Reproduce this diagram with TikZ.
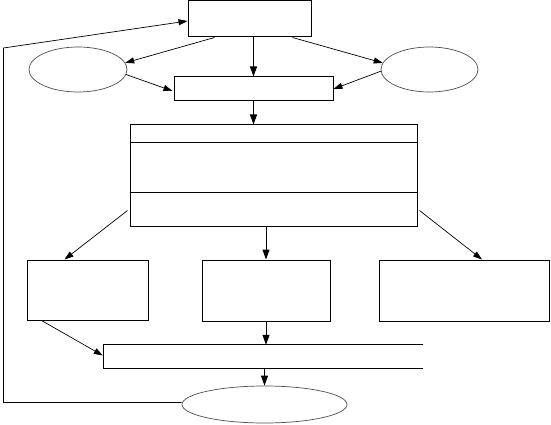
\documentclass[tikz,border=0pt]{standalone}
\usepackage{tikz}
\usetikzlibrary{arrows.meta,positioning,calc,shapes.geometric}
\tikzset{
  box/.style={draw, line width=1pt, minimum width=#1, inner sep=0pt},
  oval/.style={draw=black!70, ellipse, line width=0.7pt, inner sep=0pt},
  arrow/.style={-{Triangle[length=10pt,width=7pt]}, line width=1pt},
  slant/.style={-{Triangle[length=9pt,width=6pt]}, line width=0.7pt}
}

\begin{document}
\begin{tikzpicture}[x=1pt,y=1pt]
  \useasboundingbox (0,0) rectangle (551,-425);
  \node[box=123pt, minimum height=36pt] (top) at (249.5,-19) {};
  \node[oval, minimum width=98pt, minimum height=45pt] (lefto) at (78,-69.5) {};
  \node[oval, minimum width=97pt, minimum height=45pt] (righto) at (429.5,-69.5) {};
  \node[box=159pt, minimum height=24pt] (mid) at (253.5,-89) {};
  \node[box=287pt, minimum height=101pt] (big) at (273.5,-175.5) {};
  \node[box=121pt, minimum height=60pt] (b1) at (87.5,-290) {};
  \node[box=128pt, minimum height=61pt] (b2) at (266,-290.5) {};
  \node[box=170pt, minimum height=61pt] (b3) at (464.5,-290.5) {};
  \node[minimum width=319pt, minimum height=23pt, inner sep=0pt] (merge) at (263.5,-356.5) {};
  \node[oval, minimum width=165pt, minimum height=37pt] (endo) at (264.5,-404.5) {};
  \coordinate (fbt) at (3.5,-48);

  % divisions of the big box
  \draw[line width=1pt] ($(big.north west)+(0,-18)$) -- ($(big.north east)+(0,-18)$);
  \draw[line width=1pt] ($(big.north west)+(0,-68)$) -- ($(big.north east)+(0,-68)$);
  % open box, no right side
  \draw[line width=1pt] (merge.north east) -- (merge.north west) -- (merge.south west) -- (merge.south east);

  \draw[slant] ($(top.south west)+(27,0)$) -- (lefto.8);
  \draw[slant] ($(top.south east)+(-19,0)$) -- (righto.172);
  \draw[arrow] (top.south -| mid.north) -- (mid.north);
  \draw[slant] (lefto.-6) -- ($(mid.west)+(-1,-2)$);
  \draw[slant] (righto.182) -- (mid.east);
  \draw[arrow] (mid.south) -- (mid.south |- big.north);

  \draw[slant] ($(big.south west)+(-2,16)$) -- ($(b1.north west)+(38,0)$);
  \draw[arrow] (big.south -| b2.north) -- (b2.north);
  \draw[slant] ($(big.south east)+(2,16)$) -- ($(b3.north)+(17.5,0)$);

  \draw[slant] ($(b1.south west)+(15,0)$) -- ($(merge.west)+(-1,1)$);
  \draw[arrow] (b2.south) -- (b2.south |- merge.north);
  \draw[arrow] (merge.south -| endo.north) -- (endo.north);

  \draw[slant] ($(endo.west)+(0,2)$) -- ($(endo.west -| fbt)+(0,2)$) -- (fbt) -- ($(top.west)+(0,-2)$);
\end{tikzpicture}
\end{document}
